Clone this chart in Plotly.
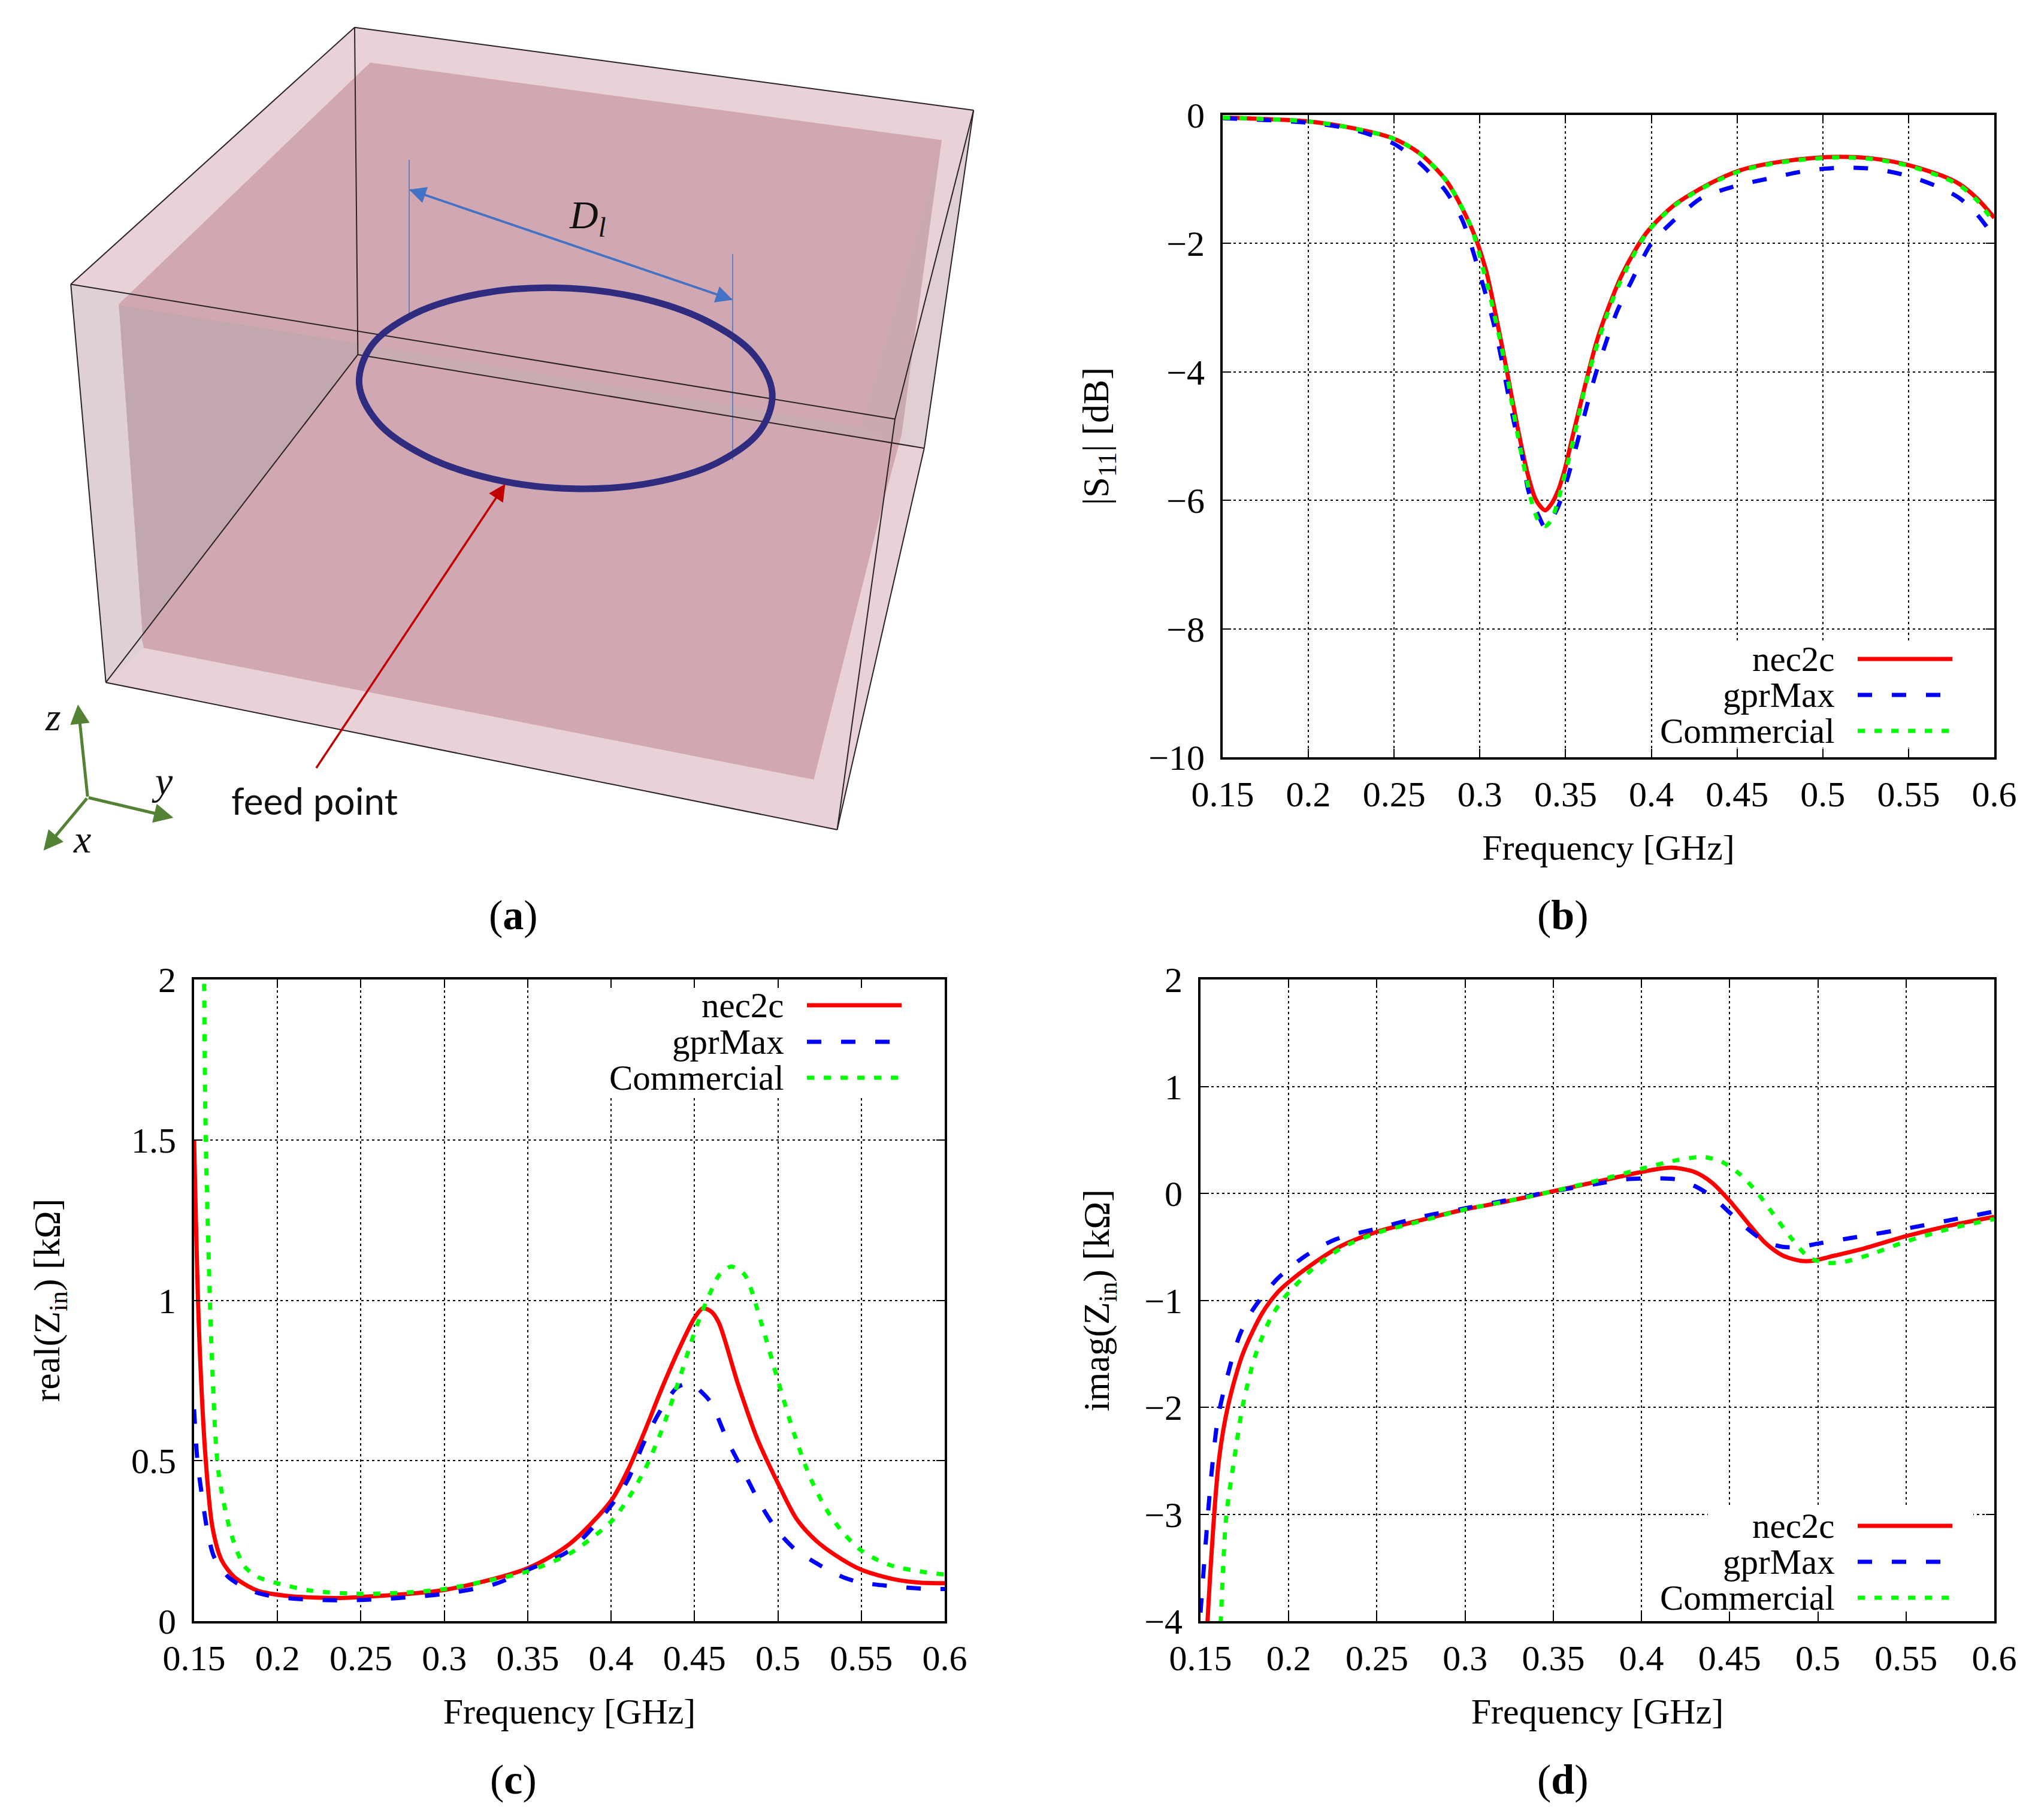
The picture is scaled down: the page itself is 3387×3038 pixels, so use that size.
import plotly.graph_objects as go

W, H = 3387, 3038

# ---------- chart data ----------
freq_ticks = [0.15, 0.2, 0.25, 0.3, 0.35, 0.4, 0.45, 0.5, 0.55, 0.6]
freq_ticktext = ["0.15", "0.2", "0.25", "0.3", "0.35", "0.4", "0.45", "0.5", "0.55", "0.6"]

b_nec_f = [.15, .2, .225, .25, .265, .2806, .295, .3034, .3091, .3155, .3219, .3277, .3323, .3358, .3381, .3416, .3456, .3497, .3543, .3612, .3682, .3751, .3832, .397, .413, .434, .452, .47, .49, .51, .53, .55, .57, .58, .59, .6]
b_nec_v = [-.04, -.1, -.2, -.37, -.6, -1.03, -1.75, -2.40, -3.09, -3.95, -4.85, -5.57, -5.97, -6.11, -6.155, -6.06, -5.85, -5.5, -4.98, -4.23, -3.52, -2.99, -2.47, -1.84, -1.41, -1.07, -.86, -.75, -.68, -.65, -.68, -.78, -.95, -1.08, -1.3, -1.6]
b_gpr_f = [.15, .2, .225, .25, .265, .28, .29, .3022, .308, .3124, .3161, .3201, .3248, .3286, .3346, .3381, .345, .3514, .3566, .3618, .367, .3732, .3798, .3884, .4, .41, .42, .43, .45, .47, .49, .51, .53, .55, .57, .58, .59, .6]
b_gpr_v = [-.05, -.12, -.22, -.45, -.75, -1.18, -1.65, -2.68, -3.24, -3.77, -4.29, -4.81, -5.32, -5.88, -6.26, -6.42, -6.14, -5.63, -5.12, -4.59, -4.08, -3.57, -3.07, -2.59, -2.0, -1.72, -1.48, -1.28, -1.1, -.98, -.87, -.82, -.84, -.95, -1.15, -1.3, -1.55, -1.9]
b_com_f = [.15, .2, .225, .25, .265, .2806, .295, .3022, .3049, .3115, .3155, .319, .3225, .3265, .3309, .3346, .3381, .3416, .345, .3502, .3549, .3612, .3668, .374, .3815, .397, .413, .434, .452, .47, .49, .51, .53, .55, .57, .58, .59, .6]
b_com_v = [-.04, -.1, -.2, -.37, -.6, -1.03, -1.75, -2.43, -2.70, -3.47, -4.0, -4.53, -5.04, -5.57, -6.09, -6.34, -6.40, -6.31, -6.06, -5.53, -5.02, -4.25, -3.72, -3.12, -2.62, -1.85, -1.42, -1.08, -.87, -.76, -.69, -.66, -.69, -.79, -.97, -1.1, -1.33, -1.68]

c_nec_f = [.15, .153, .157, .161, .1665, .174, .188, .207, .238, .25, .3, .35, .375, .4, .41, .42, .43, .44, .45, .455, .46, .4646, .476, .4875, .5, .511, .522, .534, .55, .57, .585, .6]
c_nec_v = [1.5, .9, .5, .293, .19, .138, .095, .078, .072, .075, .097, .165, .24, .375, .47, .59, .72, .84, .945, .975, .965, .93, .74, .57, .43, .32, .255, .207, .16, .13, .12, .118]
c_gpr_f = [.15, .152, .155, .158, .162, .17, .18, .19, .2, .22, .24, .26, .28, .3, .33, .35, .375, .4, .41, .42, .43, .44, .448, .455, .46, .47, .48, .49, .5, .51, .52, .53, .54, .55, .57, .59, .6]
c_gpr_v = [.66, .5, .38, .28, .2, .14, .105, .085, .075, .067, .065, .068, .075, .085, .115, .16, .22, .36, .44, .56, .66, .73, .74, .71, .68, .56, .46, .36, .28, .225, .19, .16, .135, .12, .108, .1, .1]
c_com_f = [.1555, .156, .157, .161, .1646, .172, .18, .188, .2, .22, .25, .28, .3, .33, .35, .375, .4, .41, .42, .43, .44, .45, .455, .46, .465, .472, .48, .49, .5, .51, .52, .53, .54, .55, .56, .57, .585, .6]
c_com_v = [2.3, 2.0, 1.5, .776, .465, .276, .172, .138, .118, .095, .085, .09, .1, .13, .155, .21, .31, .38, .47, .59, .74, .9, .97, 1.03, 1.08, 1.105, 1.08, .93, .75, .58, .44, .34, .27, .22, .19, .17, .155, .145]

d_nec_f = [.15, .152, .154, .1604, .1657, .174, .185, .1935, .2, .2127, .23, .25, .275, .3, .325, .35, .375, .4, .41, .418, .43, .44, .45, .46, .47, .48, .49, .497, .51, .525, .55, .575, .6]
d_nec_v = [-6, -5, -4, -2.5, -1.98, -1.5, -1.12, -.93, -.83, -.67, -.49, -.36, -.25, -.15, -.07, .02, .11, .2, .23, .24, .2, .1, -.07, -.27, -.46, -.58, -.63, -.63, -.58, -.52, -.4, -.3, -.22]
d_gpr_f = [.15, .1528, .156, .16, .1667, .1726, .18, .1935, .209, .2266, .25, .275, .3, .325, .35, .375, .39, .41, .42, .43, .44, .45, .46, .47, .48, .49, .5, .525, .55, .575, .6]
d_gpr_v = [-3.92, -3.3, -2.66, -2.09, -1.62, -1.31, -1.08, -.8, -.59, -.43, -.33, -.22, -.14, -.06, .02, .09, .13, .14, .13, .07, -.03, -.18, -.33, -.45, -.5, -.5, -.47, -.4, -.33, -.25, -.17]
d_com_f = [.155, .1615, .1646, .169, .174, .181, .19, .1988, .2127, .23, .25, .275, .3, .325, .35, .375, .4, .42, .435, .445, .455, .465, .475, .485, .495, .505, .515, .53, .55, .575, .6]
d_com_v = [-7, -4, -3.02, -2.5, -1.98, -1.52, -1.16, -.95, -.72, -.51, -.37, -.26, -.15, -.07, .02, .12, .23, .31, .34, .3, .19, .02, -.2, -.42, -.6, -.65, -.64, -.57, -.45, -.33, -.24]

series_names = ["nec2c", "gprMax", "Commercial"]

# ---------- illustration (a) ----------
hull_x = [546, 1499, 1423, 1289, 163, 109]
hull_y = [46, 185, 752, 1392, 1145, 477]
left_strip_x = [109, 203, 183, 221, 163]
left_strip_y = [477, 493, 510, 1087, 1145]
right_strip_x = [1499, 1423, 1372, 1378]
right_strip_y = [185, 752, 746, 703]
sheet_x = [570, 1450, 1408, 1388, 1362, 1253, 221, 183]
sheet_y = [105, 235, 565, 730, 834, 1308, 1087, 510]
wedge_x = [1447, 1324, 1375, 1388, 1408]
wedge_y = [255, 717, 741, 730, 565]
band_x = [550, 1324, 1375, 551]
band_y = [576, 717, 741, 595]
side_x = [183, 550, 551, 218, 221]
side_y = [512, 576, 595, 1070, 1085]
edges_x = [546, 1499, None, 546, 109, None, 109, 1378, None, 546, 551, None, 551, 1423, None, 551, 163, None, 109, 163, None, 163, 1289, None, 1289, 1378, None, 1289, 1423, None, 1499, 1378, None, 1499, 1423]
edges_y = [46, 185, None, 46, 477, None, 477, 703, None, 46, 595, None, 595, 752, None, 595, 1145, None, 477, 1145, None, 1145, 1392, None, 1392, 703, None, 1392, 752, None, 185, 703, None, 185, 752]
ring_x = [1189, 1170, 1105, 1004, 884, 760, 655, 582, 553, 572, 637, 738, 858, 982, 1087, 1160, 1189]
ring_y = [660, 723, 776, 810, 820, 804, 765, 709, 644, 580, 527, 493, 483, 499, 538, 594, 660]
guide_x = [630, 630, None, 1128, 1128]
guide_y = [268, 530, None, 426, 772]

ILL_X = 1700 / 1568
ILL_Y = 1560 / 1568

def fx(p):
    return p / W

def fy(p):
    return 1 - p / H

LINE_W = 7
STYLES = [
    dict(color="#ff0000", width=LINE_W, shape="spline", smoothing=0.8),
    dict(color="#0000ff", width=LINE_W, dash="24px,33px", shape="spline", smoothing=0.8),
    dict(color="#00ff00", width=LINE_W, dash="12px,16px", shape="spline", smoothing=0.8),
]
SAMPLES = [dict(color=s["color"], width=s["width"], dash=s.get("dash", "solid")) for s in STYLES]

PANELS = [
    dict(key="", box=(2041, 3329, 192, 1264), yr=[-10, 0], yt=[0, -2, -4, -6, -8, -10], ystand=47,
         ytt=["0", "−2", "−4", "−6", "−8", "−10"], ytitle="|S<sub>11</sub>| [dB]",
         curves=[(b_nec_f, b_nec_v), (b_gpr_f, b_gpr_v), (b_com_f, b_com_v)],
         leg=dict(text_x=3065, ys=[1100, 1160, 1220], lx=(3101, 3259), blank=(2762, 3285, 1072, 1248))),
    dict(key="2", box=(324, 1577, 1635, 2706), yr=[0, 2], yt=[0, 0.5, 1, 1.5, 2], ystand=100,
         ytt=["0", "0.5", "1", "1.5", "2"], ytitle="real(Z<sub>in</sub>) [kΩ]",
         curves=[(c_nec_f, c_nec_v), (c_gpr_f, c_gpr_v), (c_com_f, c_com_v)],
         leg=dict(text_x=1311, ys=[1678, 1739, 1799], lx=(1347, 1505), blank=(1007, 1521, 1652, 1828))),
    dict(key="3", box=(2004, 3329, 1635, 2706), yr=[-4, 2], yt=[2, 1, 0, -1, -2, -3, -4], ystand=39,
         ytt=["2", "1", "0", "−1", "−2", "−3", "−4"], ytitle="imag(Z<sub>in</sub>) [kΩ]",
         curves=[(d_nec_f, d_nec_v), (d_gpr_f, d_gpr_v), (d_com_f, d_com_v)],
         leg=dict(text_x=3065, ys=[2547, 2607, 2667], lx=(3101, 3259), blank=(2851, 3294, 2516, 2690))),
]

FONT = "Liberation Serif"
TICK = 60
fig = go.Figure()
shapes, annos = [], []

# illustration traces on their own hidden axes
ill = dict(xaxis="x4", yaxis="y4", hoverinfo="skip", showlegend=False)
for xs, ys, col in [(hull_x, hull_y, "#E9D2D7"), (left_strip_x, left_strip_y, "#DFD0D4"),
                    (right_strip_x, right_strip_y, "#DFCFD3"), (sheet_x, sheet_y, "#D1A8B2"),
                    (wedge_x, wedge_y, "#CBA9B0"), (band_x, band_y, "#C9ABB2"),
                    (side_x, side_y, "#C3A7AE")]:
    fig.add_trace(go.Scatter(x=xs, y=ys, mode="lines", fill="toself", fillcolor=col, line=dict(width=0), **ill))
fig.add_trace(go.Scatter(x=guide_x, y=guide_y, mode="lines", line=dict(color="#4472C4", width=1.5), **ill))
fig.add_trace(go.Scatter(x=edges_x, y=edges_y, mode="lines", line=dict(color="#2a2225", width=2), **ill))
fig.add_trace(go.Scatter(x=ring_x, y=ring_y, mode="lines", line=dict(color="#2F2C80", width=11, shape="spline", smoothing=1), **ill))

def arrow(x0, y0, x1, y1, col, w=4, size=1.0):
    annos.append(dict(x=x1, y=y1, ax=x0, ay=y0, xref="x4", yref="y4", axref="x4", ayref="y4", text="",
                      showarrow=True, arrowhead=2, arrowsize=size, arrowwidth=w, arrowcolor=col))

arrow(1128, 503, 630, 318, "#4472C4", 3.5, 1.6)
arrow(630, 318, 1128, 503, "#4472C4", 3.5, 1.6)
arrow(486, 1290, 778, 812, "#C00000", 3.5, 1.6)
GREEN = "#548235"
arrow(135, 1338, 120, 1182, GREEN, 5, 1.3)
arrow(135, 1338, 267, 1372, GREEN, 5, 1.3)
arrow(135, 1338, 67, 1427, GREEN, 5, 1.3)

def ill_text(x, y, text, font, size):
    annos.append(dict(x=x, y=y, xref="x4", yref="y4", text=text, showarrow=False,
                      font=dict(family=font, size=size, color="#111"), xanchor="center", yanchor="middle"))

ill_text(484, 1343, "feed point", "Lato", 62)
ill_text(905, 365, "<i>D<sub>l</sub></i>", FONT, 66)
ill_text(82, 1203, "<i>z</i>", FONT, 66)
ill_text(250, 1310, "<i>y</i>", FONT, 66)
ill_text(126, 1408, "<i>x</i>", FONT, 66)

for i, p in enumerate(PANELS):
    xk = "x" + p["key"]
    yk = "y" + p["key"]
    L, R, T, B = p["box"]
    axis_common = dict(showline=True, linecolor="black", linewidth=4, mirror="allticks", ticks="inside",
                       ticklen=14, tickwidth=1.5, tickcolor="black", zeroline=False, automargin=False,
                       showgrid=True, gridcolor="black", griddash="4px,5px", gridwidth=1.5,
                       tickfont=dict(family=FONT, size=TICK, color="black"))
    fig.update_layout(**{
        "xaxis" + p["key"]: dict(domain=[fx(L), fx(R)], range=[0.15, 0.6], tickmode="array", tickvals=freq_ticks,
                                 ticktext=freq_ticktext, anchor=yk, ticklabelstandoff=6,
                                 title=dict(text="Frequency [GHz]", font=dict(family=FONT, size=60, color="black"), standoff=36),
                                 **axis_common),
        "yaxis" + p["key"]: dict(domain=[fy(B), fy(T)], range=p["yr"], tickmode="array", tickvals=p["yt"],
                                 ticktext=p["ytt"], anchor=xk, ticklabelstandoff=14,
                                 title=dict(text=p["ytitle"], font=dict(family=FONT, size=62, color="black"), standoff=p["ystand"]),
                                 **axis_common),
    })
    lg = p["leg"]
    bx0, bx1, by0, by1 = lg["blank"]
    shapes.append(dict(type="rect", xref="paper", yref="paper", x0=fx(bx0), x1=fx(bx1), y0=fy(by0), y1=fy(by1),
                       fillcolor="white", line=dict(width=0), layer="above"))
    for name, y, st in zip(series_names, lg["ys"], SAMPLES):
        annos.append(dict(x=fx(lg["text_x"]), y=fy(y), xref="paper", yref="paper", text=name, showarrow=False,
                          xanchor="right", yanchor="middle", font=dict(family=FONT, size=59, color="black")))
        shapes.append(dict(type="line", xref="paper", yref="paper", x0=fx(lg["lx"][0]), x1=fx(lg["lx"][1]),
                           y0=fy(y), y1=fy(y), line=st, layer="above"))
    for (fs, vs), name, st in zip(p["curves"], series_names, STYLES):
        fig.add_trace(go.Scatter(x=fs, y=vs, mode="lines", name=name, line=st, xaxis=xk, yaxis=yk,
                                 showlegend=False))

for (cx, cy, letter) in [(857, 1527, "a"), (2609, 1527, "b"), (857, 2970, "c"), (2609, 2970, "d")]:
    annos.append(dict(x=fx(cx), y=fy(cy), xref="paper", yref="paper", text=f"(<b>{letter}</b>)", showarrow=False,
                      xanchor="center", yanchor="middle", font=dict(family=FONT, size=70, color="black")))

fig.update_layout(
    width=W, height=H, autosize=False, margin=dict(l=0, r=0, t=0, b=0),
    paper_bgcolor="white", plot_bgcolor="rgba(0,0,0,0)", showlegend=False,
    shapes=shapes, annotations=annos,
    xaxis4=dict(domain=[0, 1], range=[0, W / ILL_X], visible=False, anchor="y4", fixedrange=True),
    yaxis4=dict(domain=[0, 1], range=[H / ILL_Y, 0], visible=False, anchor="x4", fixedrange=True),
)
fig.write_html("out.html", config=dict(displayModeBar=False), post_script="document.body.style.margin='0';")
